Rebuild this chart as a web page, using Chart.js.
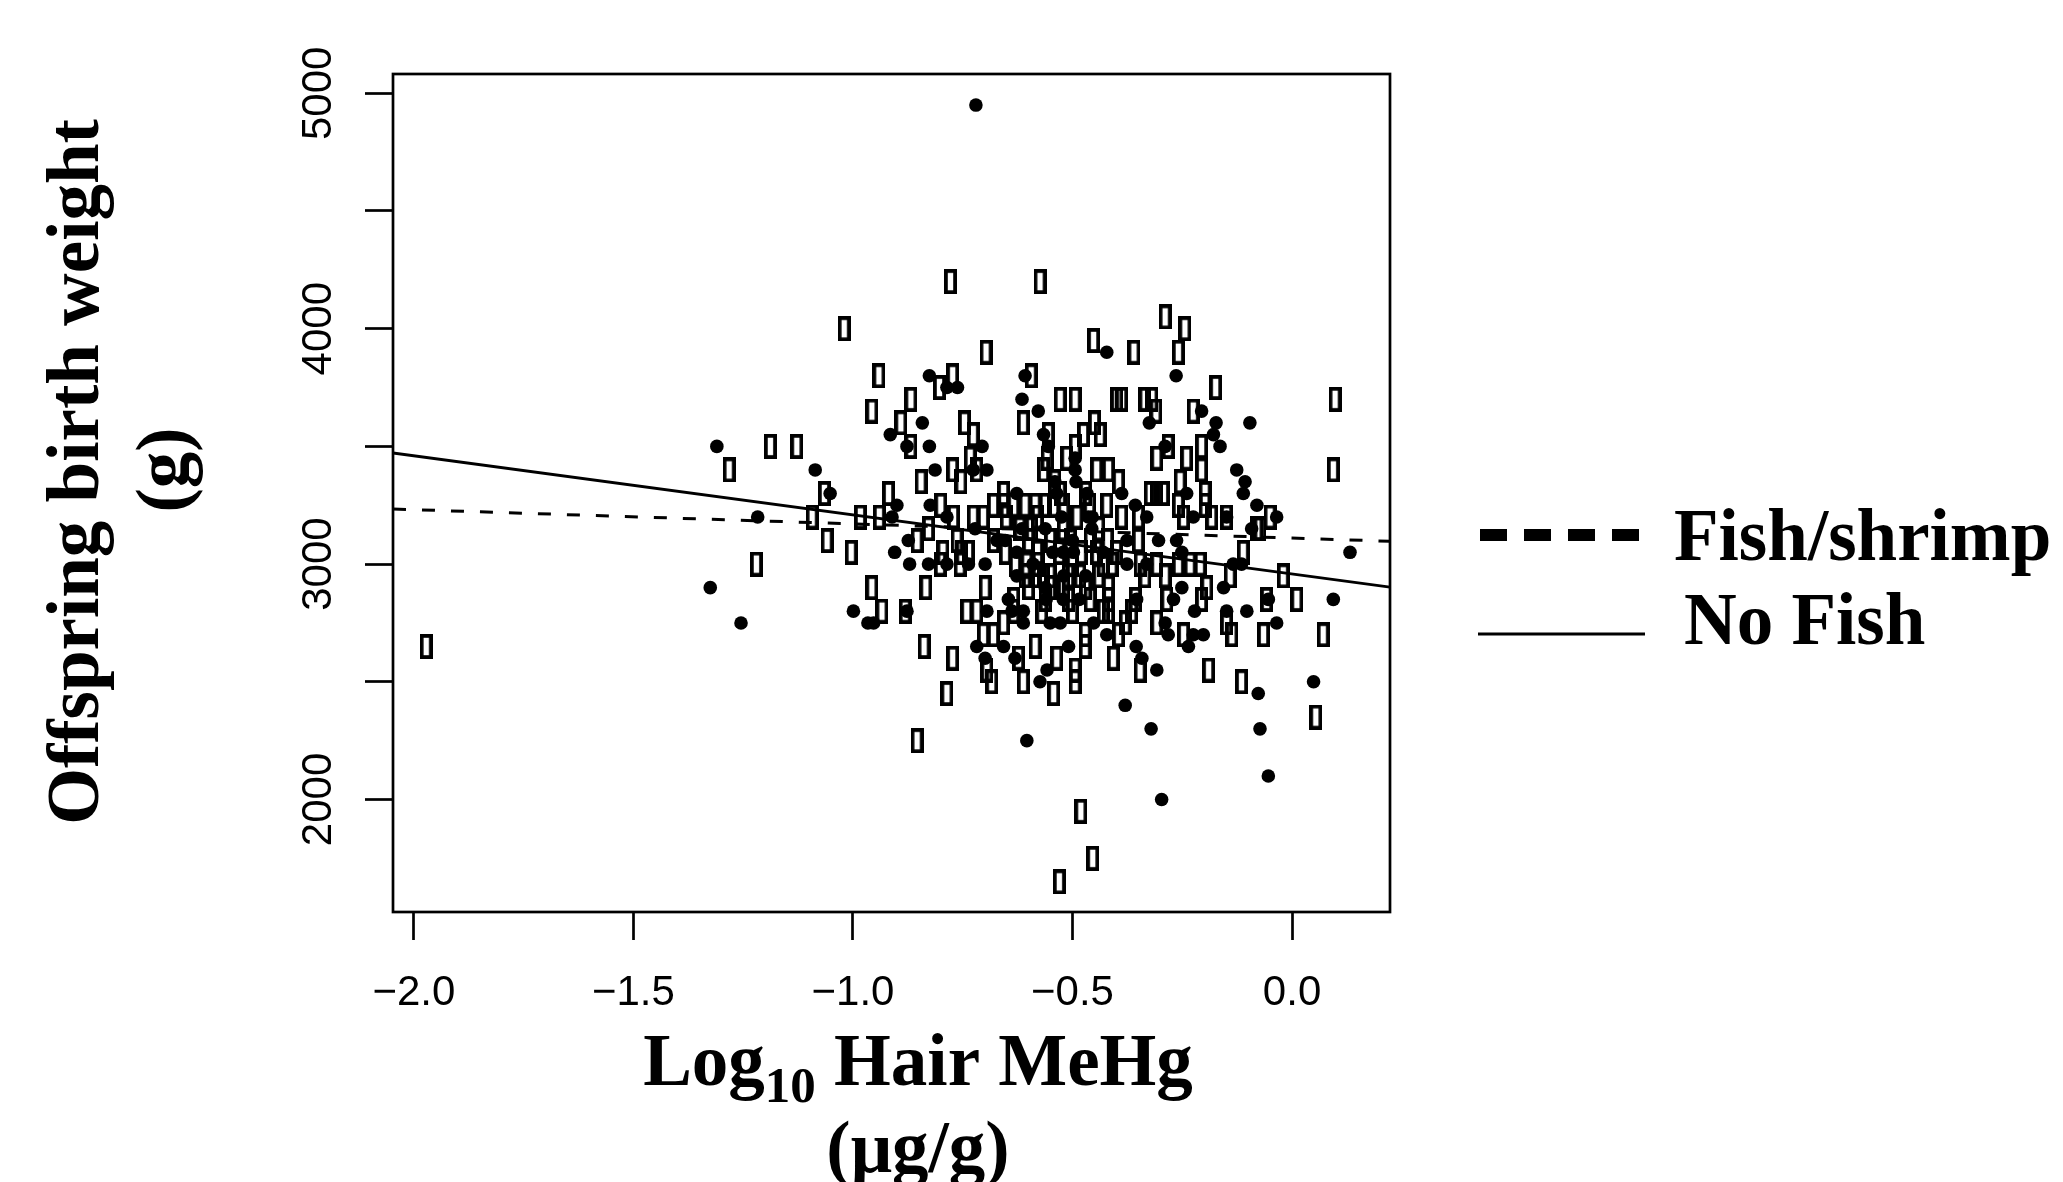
<!DOCTYPE html>
<html><head><meta charset="utf-8">
<script src="https://cdn.jsdelivr.net/npm/chart.js@4.4.0/dist/chart.umd.min.js"></script>
<style>html,body{margin:0;padding:0;background:#fff;overflow:hidden}canvas{display:block}</style>
</head><body>
<canvas id="c" width="2063" height="1182" style="width:2063px;height:1182px"></canvas>
<script>
// ---- data ----
const dotX = [-0.72,-0.826,-0.786,-0.762,-0.608,-0.615,-0.578,-0.842,-0.422,-0.264,-0.206,-0.325,-0.173,-0.096,-1.31,-1.325,-1.255,-1.086,-1.052,-1.217,-0.90,-0.911,-0.915,-0.877,-0.826,-0.706,-0.695,-0.726,-0.813,-0.824,-0.874,-0.905,-0.871,-0.828,-0.786,-0.737,-0.699,-0.786,-0.722,-0.627,-0.672,-0.653,-0.627,-0.562,-0.566,-0.555,-0.54,-0.536,-0.627,-0.562,-0.646,-0.612,-0.638,-0.612,-0.551,-0.528,-0.999,-0.966,-0.953,-0.877,-0.695,-0.718,-0.657,-0.699,-0.604,-0.631,-0.558,-0.574,-0.494,-0.494,-0.492,-0.289,-0.179,-0.164,-0.126,-0.107,-0.111,-0.24,-0.467,-0.464,-0.388,-0.357,-0.331,-0.225,-0.149,-0.08,-0.035,-0.092,-0.134,-0.115,-0.156,-0.054,0.094,0.132,-0.103,-0.149,-0.035,-0.077,0.049,-0.073,-0.321,-0.38,-0.342,-0.308,-0.355,-0.289,-0.282,-0.236,-0.225,-0.202,-0.222,-0.251,-0.27,-0.304,-0.263,-0.251,-0.376,-0.331,-0.376,-0.354,-0.422,-0.452,-0.509,-0.521,-0.521,-0.498,-0.456,-0.525,-0.297,-0.054,
  -0.59,-0.545,-0.50,-0.47,-0.43,-0.56,-0.485,-0.615,-0.455,-0.52];
const dotY = [4950,3800,3750,3750,3800,3700,3650,3600,3900,3800,3650,3600,3600,3600,3500,2900,2750,3400,3300,3200,3250,3200,3550,3500,3500,3500,3400,3400,3400,3250,3100,3050,3000,3000,3000,3000,3000,3200,3150,3300,3100,3100,3050,3150,3550,3500,3350,3300,2950,2900,2850,2800,2800,2750,2750,2750,2800,2750,2750,2800,2800,2650,2650,2600,2250,2600,2550,2500,3450,3400,3350,3500,3550,3500,3400,3350,3300,3300,3300,3200,3300,3250,3200,3200,3200,3250,3200,3150,3000,3000,2900,2850,2850,3050,2800,2800,2750,2450,2500,2300,2300,2400,2600,2550,2650,2750,2700,2650,2700,2700,2800,2900,2850,3100,3100,3050,3100,3000,3000,2850,2700,2750,2650,2850,3050,3050,3150,3200,2000,2100,
  3000,3050,3100,2950,3050,2850,2850,3150,3200,2950];
const boxX = [-1.972,-1.282,-1.188,-1.128,-1.065,-1.093,-1.059,-1.22,-1.004,-0.983,-0.94,-0.919,-0.778,-0.574,-1.02,-0.697,-0.941,-0.803,-0.773,-0.594,-0.528,-0.868,-0.957,-0.891,-0.746,-0.612,-0.289,-0.244,-0.452,-0.36,-0.259,-0.174,-0.494,-0.399,-0.388,-0.335,-0.319,-0.31,-0.225,0.098,-0.45,-0.868,-0.726,-0.733,-0.718,-0.754,-0.773,-0.845,-0.80,-0.828,-0.854,-0.801,-0.771,-0.795,-0.763,-0.752,-0.737,-0.756,-0.726,-0.703,-0.657,-0.68,-0.657,-0.634,-0.651,-0.68,-0.653,-0.608,-0.585,-0.562,-0.543,-0.593,-0.566,-0.555,-0.558,-0.608,-0.585,-0.566,-0.551,-0.578,-0.604,-0.562,-0.551,-0.699,-0.634,-0.634,-0.657,-0.957,-0.934,-0.881,-0.834,-0.741,-0.718,-0.703,-0.68,-0.695,-0.684,-0.838,-0.773,-0.786,-0.854,-0.623,-0.612,-0.585,-0.543,-0.536,-0.475,-0.437,-0.494,-0.513,-0.445,-0.418,-0.395,-0.528,-0.308,-0.282,-0.24,-0.206,-0.206,-0.255,-0.198,-0.323,-0.308,-0.293,-0.461,-0.422,-0.388,-0.35,-0.259,-0.247,-0.198,-0.183,-0.149,-0.05,-0.08,-0.073,-0.111,-0.141,-0.02,0.011,-0.058,-0.149,-0.137,-0.065,0.071,-0.19,-0.115,0.054,-0.346,-0.308,-0.247,-0.206,-0.194,-0.285,-0.289,-0.308,-0.259,-0.232,-0.209,-0.35,-0.346,-0.335,-0.357,-0.365,-0.38,-0.395,-0.407,-0.418,-0.418,-0.418,-0.445,-0.43,-0.471,-0.471,-0.494,-0.494,-0.46,-0.509,-0.509,-0.483,-0.505,-0.521,0.094,-0.481,-0.454,-0.53,
  -0.62,-0.60,-0.58,-0.55,-0.53,-0.50,-0.48,-0.46,-0.44,-0.42,-0.52,-0.47,-0.44,-0.41,-0.60,-0.63,-0.58,-0.52,-0.49,-0.47,-0.43,-0.50,-0.57,-0.40,-0.54];
const boxY = [2650,3400,3500,3500,3300,3200,3100,3000,3050,3200,3200,3300,4200,4200,4000,3900,3800,3750,3800,3800,3700,3700,3650,3600,3600,3600,4050,4000,3950,3900,3900,3750,3700,3700,3700,3700,3700,3650,3650,3700,3600,3500,3550,3450,3400,3350,3400,3350,3250,3150,3100,3000,3200,3050,3100,3050,3050,3000,3200,3200,3300,3250,3250,3250,3200,3100,3050,3250,3250,3250,3250,3150,3400,3550,3450,2950,2950,2950,2950,3000,3000,2850,2900,2900,2850,2800,2750,2900,2800,2800,2900,2800,2800,2700,2700,2550,2500,2650,2600,2450,2250,2600,2500,2650,2450,2600,3550,3550,3500,3450,3400,3400,3350,3300,3450,3500,3450,3500,3400,3350,3300,3300,3300,3300,3250,3250,3200,3200,3250,3200,3250,3200,3200,3200,3150,3150,3050,2950,2950,2850,2850,2750,2700,2700,2700,2550,2500,2350,2550,2750,2700,2850,2900,2850,2950,3000,3000,3000,3000,3100,3000,2950,2850,2800,2750,2700,2600,2850,2800,2900,3050,3000,2700,2650,2550,2500,2850,2850,2950,2950,3100,3150,3400,1950,1750,1650,
  3150,3100,3050,3100,3050,3000,3050,3100,3150,3100,2900,2900,2950,3000,2900,3000,3200,3250,3200,3300,2800,2800,2800,3050,3350];
const lineX = [-2.0476, 0.2231];
const fishShrimpLineY = [3234, 3097];
const noFishLineY = [3472, 2902];
const xRange = [-2.0476, 0.2231];
const yRange = [1522, 5082];
const xTicks = [-2.0, -1.5, -1.0, -0.5, 0.0];
const yTicks = [2000, 2500, 3000, 3500, 4000, 4500, 5000];
const yTickLabels = [2000, 3000, 4000, 5000];
const xTitle = ['Log', '10', ' Hair MeHg'];
const xTitle2 = '(\u03bcg/g)';
const yTitle = ['Offspring birth weight', '(g)'];
const legendLabels = ['Fish/shrimp', 'No Fish'];

// ---- build ----
function pts(xs, ys){ return xs.map((x,i)=>({x:x, y:ys[i]})); }
function boxGlyph(){
  const c=document.createElement('canvas'); c.width=13; c.height=25;
  const g=c.getContext('2d'); g.lineWidth=3.8; g.strokeStyle='#000';
  g.strokeRect(1.9,1.9,13-3.8,25-3.8); return c;
}
const fmt = v => (v < -1e-9 ? '\u2212' : '') + Math.abs(v).toFixed(1);

const decor = {
  id:'decor',
  afterDraw(chart){
    const ctx = chart.ctx, ca = chart.chartArea;
    ctx.save();
    ctx.strokeStyle='#000'; ctx.lineWidth=2.7; ctx.setLineDash([]);
    ctx.strokeRect(ca.left, ca.top, ca.right-ca.left, ca.bottom-ca.top);
    const ys = chart.scales.y;
    ctx.fillStyle='#000';
    ctx.font='42px "Liberation Sans", Arial, sans-serif';
    ctx.textAlign='center'; ctx.textBaseline='alphabetic';
    ys.ticks.forEach(t=>{
      if (yTickLabels.indexOf(t.value) >= 0) {
        const py = ys.getPixelForValue(t.value);
        ctx.save(); ctx.translate(ca.left-62, py); ctx.rotate(-Math.PI/2);
        ctx.fillText(String(t.value), 0, 0); ctx.restore();
      }
    });
    ctx.font='bold 73px "Liberation Serif", "Times New Roman", serif';
    ctx.save(); ctx.translate(98, 472); ctx.rotate(-Math.PI/2); ctx.fillText(yTitle[0],0,0); ctx.restore();
    ctx.save(); ctx.translate(187, 470); ctx.rotate(-Math.PI/2); ctx.fillText(yTitle[1],0,0); ctx.restore();
    const mainF='bold 73px "Liberation Serif", "Times New Roman", serif';
    const subF='bold 51px "Liberation Serif", "Times New Roman", serif';
    ctx.textAlign='left';
    ctx.font=mainF; const w1=ctx.measureText(xTitle[0]).width, w3=ctx.measureText(xTitle[2]).width;
    ctx.font=subF; const w2=ctx.measureText(xTitle[1]).width;
    let sx = 918 - (w1+w2+w3)/2;
    ctx.font=mainF; ctx.fillText(xTitle[0], sx, 1085);
    ctx.font=subF; ctx.fillText(xTitle[1], sx+w1, 1102);
    ctx.font=mainF; ctx.fillText(xTitle[2], sx+w1+w2, 1085);
    ctx.textAlign='center'; ctx.fillText(xTitle2, 918, 1172);
    ctx.beginPath(); ctx.lineWidth=12; ctx.lineCap='butt'; ctx.setLineDash([27,17]);
    ctx.moveTo(1480,535); ctx.lineTo(1639,535); ctx.stroke();
    ctx.beginPath(); ctx.lineWidth=3; ctx.setLineDash([]);
    ctx.moveTo(1478,634); ctx.lineTo(1645,634); ctx.stroke();
    ctx.textAlign='left'; ctx.font=mainF;
    ctx.fillText(legendLabels[0], 1674, 560);
    ctx.fillText(legendLabels[1], 1684, 644);
    ctx.restore();
  }
};

const glyph = boxGlyph();
new Chart(document.getElementById('c'), {
  type:'scatter',
  data:{ datasets:[
    { label:legendLabels[0]+' fit', data:pts(lineX, fishShrimpLineY), showLine:true, borderColor:'#000', borderWidth:3, borderDash:[13,16], pointRadius:0, order:0 },
    { label:legendLabels[1]+' fit', data:pts(lineX, noFishLineY), showLine:true, borderColor:'#000', borderWidth:2.8, pointRadius:0, order:0 },
    { label:'dots', data:pts(dotX, dotY), pointStyle:'circle', pointRadius:6.8, pointBorderWidth:0, backgroundColor:'#000', borderColor:'#000', order:1 },
    { label:'boxes', data:pts(boxX, boxY), pointStyle:glyph, pointRadius:6, backgroundColor:'#000', borderColor:'#000', order:2 }
  ]},
  options:{
    responsive:false, animation:false, devicePixelRatio:1,
    layout:{ padding:{ left:0, top:74, right:673, bottom:0 } },
    plugins:{ legend:{display:false}, tooltip:{enabled:false} },
    scales:{
      x:{ type:'linear', position:'bottom', min:xRange[0], max:xRange[1],
          afterBuildTicks(s){ s.ticks = xTicks.map(v=>({value:v})); },
          afterFit(s){ s.height = 270; },
          border:{display:false},
          grid:{ drawOnChartArea:false, drawTicks:true, tickLength:28, tickWidth:2.7, tickColor:'#000' },
          ticks:{ autoSkip:false, maxRotation:0, padding:28, color:'#000',
                  font:{ family:'"Liberation Sans", Arial, sans-serif', size:42 }, callback:v=>fmt(v) } },
      y:{ type:'linear', position:'left', min:yRange[0], max:yRange[1],
          afterBuildTicks(s){ s.ticks = yTicks.map(v=>({value:v})); },
          afterFit(s){ s.width = 393; },
          border:{display:false},
          grid:{ drawOnChartArea:false, drawTicks:true, tickLength:28, tickWidth:2.7, tickColor:'#000' },
          ticks:{ display:false } }
    }
  },
  plugins:[decor]
});
</script>
</body></html>
